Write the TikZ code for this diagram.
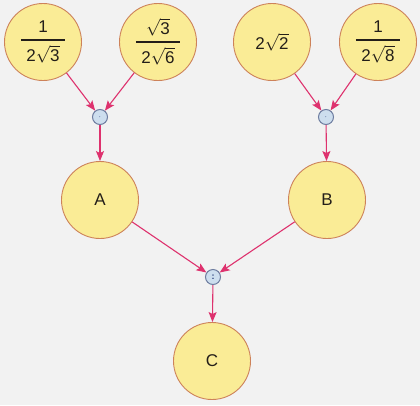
\documentclass[tikz,border=0pt]{standalone}
\usepackage{amsmath}
\usepackage{fontspec}
\setmainfont{Liberation Sans}
\usetikzlibrary{arrows.meta}
\definecolor{bg}{RGB}{242,242,242}
\definecolor{circfill}{RGB}{250,236,150}
\definecolor{circdraw}{RGB}{205,130,90}
\definecolor{arr}{RGB}{222,50,110}
\definecolor{opfill}{RGB}{205,222,238}
\definecolor{opdraw}{RGB}{110,125,160}
\definecolor{txt}{RGB}{35,30,25}
\newcommand\myfr[2]{$\displaystyle{\makebox[2.6em]{#1}\above 1.6pt \makebox[2.6em]{#2}}$}
\newcommand\rt[1]{$\sqrt{\text{#1}}$}
\tikzset{
  bubble/.style={circle,draw=circdraw,line width=0.9pt,fill=circfill,minimum size=77pt,inner sep=0pt,
    text=txt,font=\fontsize{17}{18}\selectfont},
  opnode/.style={circle,draw=opdraw,line width=1pt,fill=opfill,minimum size=15pt,inner sep=0pt,
    text={rgb,255:red,40;green,60;blue,120},font=\bfseries\fontsize{9}{9}\selectfont},
  link/.style={draw=arr,line width=1.1pt,-{Stealth[length=10pt,width=8pt,inset=2pt]}}
}
\begin{document}
\begin{tikzpicture}[x=1pt,y=-1pt]
\fill[bg] (0,0) rectangle (420,405);
\useasboundingbox (0,0) rectangle (420,405);
\node[bubble] (t1) at (43,42) {\myfr{1}{2\rt{3}}};
\node[bubble] (t2) at (158,42) {\myfr{\rt{3}}{2\rt{6}}};
\node[bubble] (t3) at (272,42) {2\rt{2}};
\node[bubble] (t4) at (378,42) {\myfr{1}{2\rt{8}}};
\node[opnode] (o1) at (100,117) {$\cdot$};
\node[opnode] (o2) at (326,117) {$\cdot$};
\node[bubble] (a) at (100,200) {A};
\node[bubble] (b) at (327,200) {B};
\node[opnode] (o3) at (213,277) {:};
\node[bubble] (c) at (212,361) {C};
\draw[link] (t1) -- (o1);
\draw[link] (t2) -- (o1);
\draw[link] (t3) -- (o2);
\draw[link] (t4) -- (o2);
\draw[link] (o1) -- (a);
\draw[link] (o2) -- (b);
\draw[link] (a) -- (o3);
\draw[link] (b) -- (o3);
\draw[link] (o3) -- (c);
\end{tikzpicture}
\end{document}
